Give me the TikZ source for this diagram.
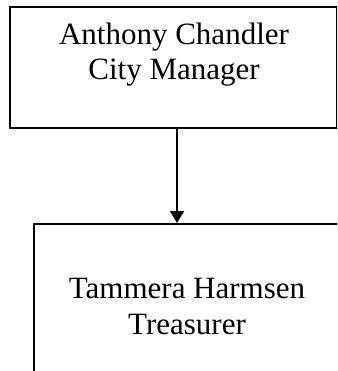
\documentclass[tikz,border=0pt]{standalone}
\usepackage{fontspec}
\setmainfont{Liberation Serif}
\usetikzlibrary{arrows.meta}
\begin{document}
\begin{tikzpicture}[x=1pt,y=-1pt,
  boxstyle/.style={draw=black,line width=2pt,inner sep=0pt,anchor=north west},
  txt/.style={inner sep=0pt,align=center,font=\fontsize{31}{35}\selectfont},
  conn/.style={line width=2pt,-{Triangle[width=14pt,length=12pt]}}]
\useasboundingbox (0,0) rectangle (337,371);
\clip (0,0) rectangle (337,371);
\node[boxstyle,minimum width=327pt,minimum height=121pt] (top) at (9,6) {};
\node[boxstyle,minimum width=308pt,minimum height=200pt] (bot) at (33,223) {};
\node[txt,anchor=base] (t1) at (174,45) {Anthony Chandler};
\node[txt,anchor=base] (t2) at (174,80) {City Manager};
\node[txt,anchor=base] (b1) at (187,298) {Tammera Harmsen};
\node[txt,anchor=base] (b2) at (187,334) {Treasurer};
\coordinate (a1) at (177,127);
\coordinate (a2) at (177,223);
\draw[conn] (top.south -| a1) -- (bot.north -| a2);
\end{tikzpicture}
\end{document}
